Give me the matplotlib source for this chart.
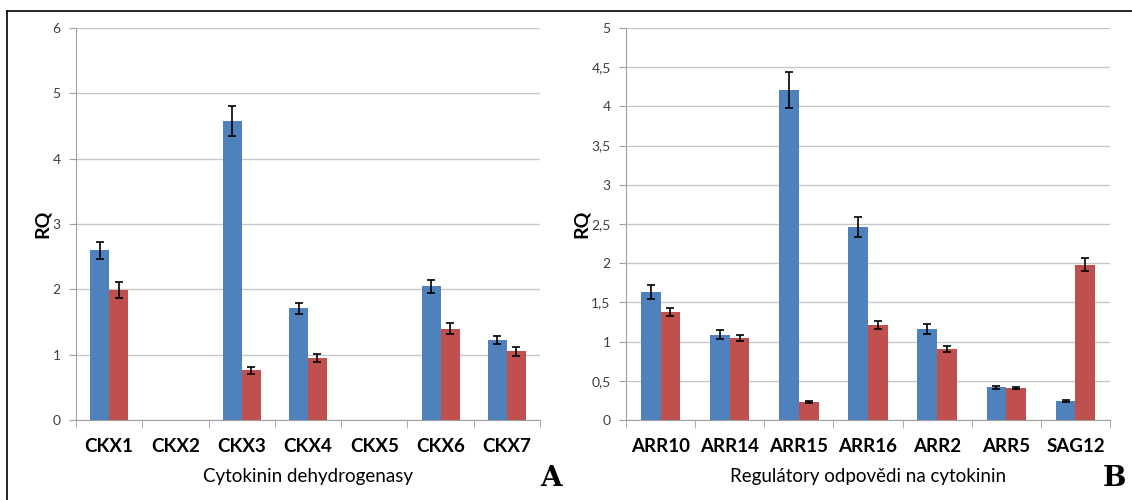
import numpy as np
import matplotlib.pyplot as plt
from matplotlib.lines import Line2D

# data
geny_a = ['CKX1', 'CKX2', 'CKX3', 'CKX4', 'CKX5', 'CKX6', 'CKX7']
modra_a = [2.60, 0, 4.57, 1.71, 0, 2.05, 1.22]
modra_a_err = [0.13, 0, 0.23, 0.08, 0, 0.10, 0.06]
cervena_a = [1.99, 0, 0.76, 0.95, 0, 1.40, 1.05]
cervena_a_err = [0.12, 0, 0.05, 0.06, 0, 0.09, 0.07]

geny_b = ['ARR10', 'ARR14', 'ARR15', 'ARR16', 'ARR2', 'ARR5', 'SAG12']
modra_b = [1.63, 1.09, 4.21, 2.46, 1.16, 0.42, 0.24]
modra_b_err = [0.09, 0.06, 0.23, 0.13, 0.06, 0.02, 0.01]
cervena_b = [1.38, 1.05, 0.23, 1.21, 0.91, 0.41, 1.98]
cervena_b_err = [0.05, 0.04, 0.01, 0.05, 0.04, 0.01, 0.08]

ticks_a = [0, 1, 2, 3, 4, 5, 6]
ticks_b = [0, 0.5, 1, 1.5, 2, 2.5, 3, 3.5, 4, 4.5, 5]

MODRA = '#4F81BD'
CERVENA = '#C0504D'

plt.rcParams['font.family'] = ['Lato', 'DejaVu Sans']

fig = plt.figure(figsize=(11.32, 5), dpi=100)

# outer frame (top and left only)
fig.add_artist(Line2D([7 / 1132, 1], [1 - 11 / 500, 1 - 11 / 500], color='black', lw=1.2))
fig.add_artist(Line2D([7 / 1132, 7 / 1132], [0, 1 - 11 / 500], color='black', lw=1.2))


def graf(ax, geny, m, me, c, ce, ticks, xlab, pismeno, carka, posun):
    x = np.arange(len(geny))
    w = 0.285
    ax.bar(x - w / 2, m, w, color=MODRA, zorder=3)
    ax.bar(x + w / 2, c, w, color=CERVENA, zorder=3)
    for xi, v, e in zip(x - w / 2, m, me):
        if v > 0:
            ax.errorbar(xi, v, yerr=e, color='black', capsize=3, lw=1.2, capthick=1.2, zorder=4)
    for xi, v, e in zip(x + w / 2, c, ce):
        if v > 0:
            ax.errorbar(xi, v, yerr=e, color='black', capsize=3, lw=1.2, capthick=1.2, zorder=4)
    ax.set_xlim(-0.5, len(geny) - 0.5)
    ax.set_ylim(ticks[0], ticks[-1])
    ax.set_yticks(ticks)
    if carka:
        ax.set_yticklabels([('%g' % t).replace('.', ',') for t in ticks])
    ax.set_xticks(x)
    ax.set_xticklabels(geny, fontweight='bold', fontsize=13.5)
    ax.set_xticks(np.arange(len(geny) + 1) - 0.5, minor=True)
    ax.tick_params(axis='x', which='major', length=0, pad=13)
    ax.tick_params(axis='x', which='minor', length=6, color='#a0a0a0')
    ax.tick_params(axis='y', length=5, color='#a0a0a0', labelsize=10, labelcolor='#404040', pad=6)
    ax.grid(axis='y', color='#c8c8c8', lw=1, zorder=0)
    for s in ['top', 'right']:
        ax.spines[s].set_visible(False)
    ax.spines['left'].set_color('#a0a0a0')
    ax.spines['bottom'].set_color('#a0a0a0')
    ax.set_ylabel('RQ', fontweight='bold', fontsize=14, labelpad=1)
    ax.set_xlabel(xlab, fontsize=13.5, labelpad=9)
    ax.text(1.0 + posun, -0.15, pismeno, transform=ax.transAxes, ha='left', va='center',
            family='DejaVu Serif', fontweight='bold', fontsize=20)


ax1 = fig.add_axes([0.0671, 0.16, 0.41, 0.784])
graf(ax1, geny_a, modra_a, modra_a_err, cervena_a, cervena_a_err, ticks_a,
     'Cytokinin dehydrogenasy', 'A', False, 0.0)

ax2 = fig.add_axes([0.553, 0.16, 0.4276, 0.784])
graf(ax2, geny_b, modra_b, modra_b_err, cervena_b, cervena_b_err, ticks_b,
     'Regulátory odpovědi na cytokinin', 'B', True, -0.015)

fig.savefig('out.png', dpi=100)
